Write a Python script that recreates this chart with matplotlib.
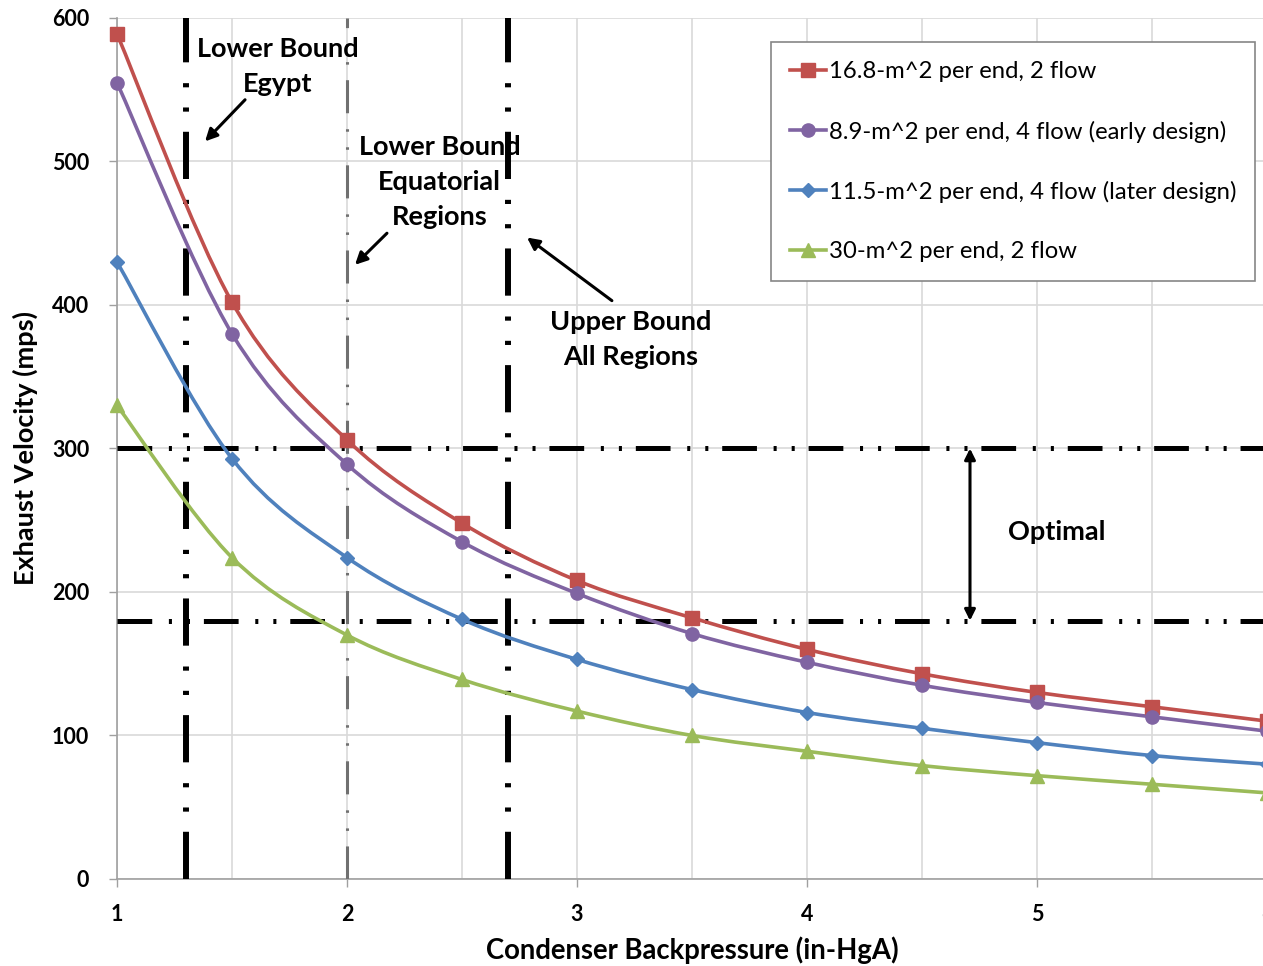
import numpy as np
import matplotlib
matplotlib.use("Agg")
import matplotlib.pyplot as plt
from matplotlib.path import Path
from matplotlib.patches import PathPatch
from matplotlib.lines import Line2D

plt.rcParams['font.family'] = ['Lato', 'DejaVu Sans']
plt.rcParams['lines.scale_dashes'] = False

# backpressure (in-HgA)
pressure = [1.0, 1.5, 2.0, 2.5, 3.0, 3.5, 4.0, 4.5, 5.0, 5.5, 6.0]

# exhaust velocity (mps)
v_168_2flow = [589, 402, 306, 248, 208, 182, 160, 143, 130, 120, 110]
v_89_4flow = [555, 380, 289, 235, 199, 171, 151, 135, 123, 113, 103]
v_115_4flow = [430, 293, 224, 181, 153, 132, 116, 105, 95, 86, 80]
v_30_2flow = [330, 224, 170, 139, 117, 100, 89, 79, 72, 66, 60]

series = [
    ("16.8-m^2 per end, 2 flow", v_168_2flow, "#C0504D", "s", 9.5),
    ("8.9-m^2 per end, 4 flow (early design)", v_89_4flow, "#8064A2", "o", 9.5),
    ("11.5-m^2 per end, 4 flow (later design)", v_115_4flow, "#4F81BD", "D", 7.5),
    ("30-m^2 per end, 2 flow", v_30_2flow, "#9BBB59", "^", 9.5),
]

x_ticks = [1, 2, 3, 4, 5, 6]
y_ticks = [0, 100, 200, 300, 400, 500, 600]


def smooth_path(x, y):
    # Excel-style smoothed line: Catmull-Rom segments drawn as cubic Beziers
    pts = np.column_stack([x, y]).astype(float)
    verts = [pts[0]]
    codes = [Path.MOVETO]
    n = len(pts)
    for i in range(n - 1):
        p0 = pts[max(i - 1, 0)]
        p1 = pts[i]
        p2 = pts[i + 1]
        p3 = pts[min(i + 2, n - 1)]
        verts += [p1 + (p2 - p0) / 6, p2 - (p3 - p1) / 6, p2]
        codes += [Path.CURVE4] * 3
    return Path(verts, codes)


fig = plt.figure(figsize=(12.63, 9.66), dpi=100)
ax = fig.add_axes([0.0926, 0.0901, 0.9105, 0.8913])

ax.set_xlim(1, 6)
ax.set_ylim(0, 600)
ax.set_xticks(x_ticks, [str(t) for t in x_ticks], fontsize=15.5, fontweight='bold')
ax.set_xticks([1.5, 2.5, 3.5, 4.5, 5.5], minor=True)
ax.set_yticks(y_ticks, [str(t) for t in y_ticks], fontsize=15.5, fontweight='bold')
ax.grid(True, which='both', color='#d9d9d9', linewidth=1.2, zorder=0)
ax.tick_params(axis='x', which='minor', length=0)
ax.tick_params(axis='x', which='major', length=6, width=1, color='#a0a0a0', pad=12)
ax.tick_params(axis='y', which='major', length=6, width=1, color='#a0a0a0', pad=14)
for side in ['top', 'right']:
    ax.spines[side].set_visible(False)
for side in ['left', 'bottom']:
    ax.spines[side].set_color('#a0a0a0')
    ax.spines[side].set_linewidth(1.2)
ax.set_axisbelow(True)

ax.set_xlabel("Condenser Backpressure (in-HgA)", fontsize=19.8, fontweight='bold', labelpad=8)
ax.set_ylabel("Exhaust Velocity (mps)", fontsize=19.5, fontweight='bold', labelpad=10)

# reference bounds
ax.axhline(300, color='black', lw=3.6, dashes=(25, 12, 2.2, 10.8, 2.2, 10), zorder=3)
ax.axhline(180, color='black', lw=3.6, dashes=(25, 12, 2.2, 10.8, 2.2, 10), zorder=3)
ax.axvline(1.3, color='black', lw=4.3, dashes=(34, 14.5, 3, 14.5, 3, 15), zorder=3)
ax.axvline(2.7, color='black', lw=4.3, dashes=(34, 14.5, 3, 14.5, 3, 15), zorder=3)
ax.axvline(2.0, color='#707070', lw=2.2, dashes=(23.8, 11.2, 1.8, 11.2, 1.8, 11.5), zorder=3)

handles = []
for label, vals, color, marker, ms in series:
    ax.add_patch(PathPatch(smooth_path(pressure, vals), fill=False, edgecolor=color,
                           lw=2.6, zorder=4))
    ax.plot(pressure, vals, ls='none', marker=marker, ms=ms, color=color, zorder=5,
            clip_on=False)
    handles.append(Line2D([], [], color=color, lw=2.6, marker=marker, ms=ms))

leg = ax.legend(handles, [s[0] for s in series], loc='upper right',
                bbox_to_anchor=(0.990, 0.972), fontsize=17.2, frameon=True,
                fancybox=False, edgecolor='#868686', framealpha=1,
                handlelength=1.5, handletextpad=0.12, labelspacing=1.6,
                borderpad=0.8, borderaxespad=0)
leg.get_frame().set_linewidth(1.2)
leg.set_zorder(6)

ann = dict(fontsize=19.5, fontweight='bold', ha='center', va='center', zorder=7,
           linespacing=1.55)
arrow = dict(arrowstyle='-|>', color='black', lw=2.2, mutation_scale=18,
             shrinkA=0, shrinkB=0)

ax.text(1.70, 566, "Lower Bound\nEgypt", **ann)
ax.annotate("", xy=(1.383, 514), xytext=(1.557, 543), arrowprops=arrow)
ax.text(2.404, 486, "Lower Bound\nEquatorial\nRegions", **ann)
ax.annotate("", xy=(2.035, 428), xytext=(2.174, 450), arrowprops=arrow)
ax.text(3.235, 376, "Upper Bound\nAll Regions", **ann)
ax.annotate("", xy=(2.783, 447), xytext=(3.152, 403), arrowprops=arrow)
ax.annotate("", xy=(4.709, 300), xytext=(4.709, 180),
            arrowprops=dict(arrowstyle='<|-|>', color='black', lw=2.2,
                            mutation_scale=16, shrinkA=0, shrinkB=0), zorder=7)
ax.text(5.087, 242, "Optimal", **ann)

fig.savefig("out.png", dpi=100)
